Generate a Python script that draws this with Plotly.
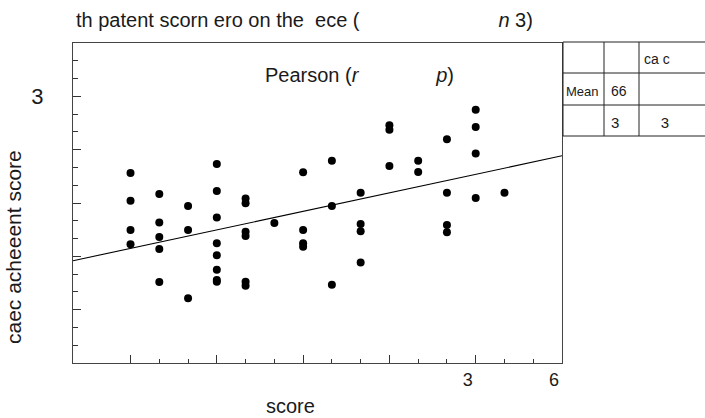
import numpy as np
import plotly.graph_objects as go

# ---- data -------------------------------------------------------------
# x: score, y: academic achievement score (one entry per student)
score = [
    18, 18, 18, 18,
    19, 19, 19, 19, 19,
    20, 20, 20,
    21, 21, 21, 21, 21, 21, 21, 21,
    22, 22, 22, 22, 22, 22,
    23,
    24, 24, 24, 24,
    25, 25, 25,
    26, 26, 26, 26,
    27, 27, 27,
    28, 28,
    29, 29, 29, 29,
    30, 30, 30, 30,
    31,
]
achievement = [
    10.69, 9.13, 7.48, 6.68,
    9.50, 7.91, 7.09, 6.41, 4.56,
    8.83, 7.48, 3.64,
    11.19, 9.67, 8.19, 6.73, 6.06, 5.25, 4.67, 4.57,
    9.26, 8.98, 7.38, 7.14, 4.57, 4.35,
    7.87,
    10.73, 7.48, 6.73, 6.54,
    11.38, 8.83, 4.40,
    9.58, 7.82, 7.41, 5.66,
    13.37, 13.12, 11.08,
    11.38, 10.74,
    12.58, 9.58, 7.76, 7.35,
    14.25, 13.27, 11.79, 9.28,
    9.58,
]

# axis ticks
x_major = [18, 21, 24, 27, 30, 33]
x_major_text = ["", "", "", "", "3", "6"]
x_minor = [19, 20, 22, 23, 25, 26, 28, 29, 31, 32]
y_major = [3, 6, 9, 12, 15]
y_major_text = ["", "", "", "", "3"]
y_minor = [1, 2, 4, 5, 7, 8, 10, 11, 13, 14, 16, 17]
x_range = [16, 33]
y_range = [0, 18]

# summary table cells (row by row)
table_rows = [
    ["", "", "ca c"],
    ["Mean", "66", ""],
    ["", "3", "    3"],
]
table_font_sizes = [
    [13, 14, 14],
    [13, 14, 14],
    [14, 15, 15],
]

title_text = ("th patent scorn ero on the  ece (" + " " * 25 + "<i>n</i> 3)")
pearson_text = "Pearson (<i>r</i>" + " " * 14 + "<i>p</i>)"

# ---- figure -----------------------------------------------------------
W, H = 705, 418
L, R, T, B = 73, 143, 43, 55
PW, PH = W - L - R, H - T - B

def px_x(px):
    return (px - L) / PW

def px_y(py):
    return (H - B - py) / PH

font_family = "Liberation Sans, Arial, Helvetica, sans-serif"
ink = "#1a1a1a"

fig = go.Figure()

fig.add_trace(go.Scatter(
    x=score, y=achievement, mode="markers",
    marker=dict(color="black", size=8, line=dict(width=0)),
    showlegend=False, hoverinfo="x+y",
))

# least-squares fit line across the whole axis
slope, intercept = np.polyfit(score, achievement, 1)
fit_x = np.array(x_range, dtype=float)
fig.add_trace(go.Scatter(
    x=fit_x, y=intercept + slope * fit_x, mode="lines",
    line=dict(color="black", width=1.1),
    showlegend=False, hoverinfo="skip",
))

axis_common = dict(
    showgrid=False, zeroline=False, showline=True, mirror=True,
    linecolor="#444", linewidth=1.3, ticks="inside", tickcolor="#333",
    tickwidth=1, tickmode="array",
)

fig.update_xaxes(
    **axis_common, range=x_range, tickvals=x_major, ticktext=x_major_text,
    ticklen=8, ticklabelshift=-8, ticklabelstandoff=0,
    tickfont=dict(size=18, color=ink, family=font_family),
    minor=dict(tickmode="array", tickvals=x_minor, ticks="inside",
               ticklen=4, tickcolor="#333", tickwidth=1, showgrid=False),
)
fig.update_yaxes(
    **axis_common, range=y_range, tickvals=y_major, ticktext=y_major_text,
    ticklen=8, ticklabelstandoff=24,
    tickfont=dict(size=22, color=ink, family=font_family),
    minor=dict(tickmode="array", tickvals=y_minor, ticks="inside",
               ticklen=5, tickcolor="#333", tickwidth=1, showgrid=False),
)

annotations = [
    dict(text=pearson_text, xref="paper", yref="paper",
         x=px_x(263), y=px_y(75), xanchor="left", yanchor="middle",
         showarrow=False, font=dict(size=20, color=ink, family=font_family)),
    dict(text="score", xref="paper", yref="paper",
         x=px_x(290), y=px_y(406), xanchor="center", yanchor="middle",
         showarrow=False, font=dict(size=20, color=ink, family=font_family)),
    dict(text="caec acheeent score", xref="paper", yref="paper",
         x=px_x(13), y=px_y(247), xanchor="center", yanchor="middle",
         textangle=-90, showarrow=False,
         font=dict(size=21, color=ink, family=font_family)),
]

# table grid
col_edges = [563, 604, 639, 720]
row_edges = [42, 73, 105, 136]
shapes = []
for cx in col_edges[:-1]:
    shapes.append(dict(type="line", xref="paper", yref="paper",
                       x0=px_x(cx), x1=px_x(cx), y0=px_y(row_edges[0]),
                       y1=px_y(row_edges[-1]), line=dict(color="#222", width=1)))
for ry in row_edges:
    shapes.append(dict(type="line", xref="paper", yref="paper",
                       x0=px_x(col_edges[0]), x1=px_x(col_edges[-1]),
                       y0=px_y(ry), y1=px_y(ry), line=dict(color="#222", width=1)))

pads = [1, 5, 3]
for r, row in enumerate(table_rows):
    yc = (row_edges[r] + row_edges[r + 1]) / 2 + 2
    for c, txt in enumerate(row):
        if not txt:
            continue
        annotations.append(dict(
            text=txt, xref="paper", yref="paper",
            x=px_x(col_edges[c] + pads[c]), y=px_y(yc),
            xanchor="left", yanchor="middle", showarrow=False,
            font=dict(size=table_font_sizes[r][c], color=ink, family=font_family)))

fig.update_layout(
    width=W, height=H,
    margin=dict(l=L, r=R, t=T, b=B, pad=0),
    paper_bgcolor="white", plot_bgcolor="white",
    title=dict(text=title_text, x=76 / W, xanchor="left", xref="container",
               y=1 - 20 / H, yanchor="middle", yref="container",
               font=dict(size=20, color=ink, family=font_family)),
    annotations=annotations, shapes=shapes,
    font=dict(family=font_family, color=ink),
)

fig.write_html("out.html")
